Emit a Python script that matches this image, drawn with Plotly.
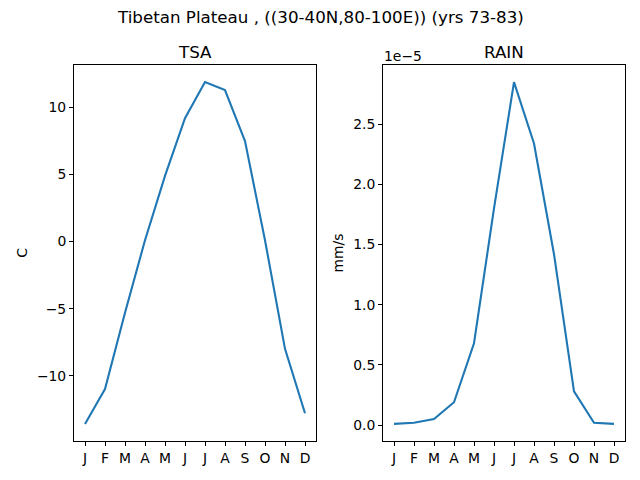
import plotly.graph_objects as go
from plotly.subplots import make_subplots

months = ["J", "F", "M", "A", "M", "J", "J", "A", "S", "O", "N", "D"]
tsa = [-13.6, -11.0, -5.3, 0.1, 4.9, 9.2, 11.9, 11.3, 7.5, 0.1, -8.0, -12.8]
# rain in units of 1e-5 mm/s
rain = [0.01, 0.02, 0.05, 0.19, 0.68, 1.80, 2.85, 2.34, 1.42, 0.28, 0.02, 0.01]

FONT = "DejaVu Sans"
LINE = "#1f77b4"


def padded(vals, frac=0.05):
    lo, hi = min(vals), max(vals)
    pad = (hi - lo) * frac
    return [lo - pad, hi + pad]


x = list(range(len(months)))
W, H = 640, 480
L, R, T, B = 74, 15, 65, 39
pw = W - L - R
ph = H - T - B


def py(ypix):
    return (H - B - ypix) / ph


def px_(xpix):
    return (xpix - L) / pw


fig = make_subplots(rows=1, cols=2)
fig.add_trace(go.Scatter(x=x, y=tsa, mode="lines", line=dict(color=LINE, width=2.1)), row=1, col=1)
fig.add_trace(go.Scatter(x=x, y=rain, mode="lines", line=dict(color=LINE, width=2.1)), row=1, col=2)

axis_style = dict(
    showline=True, linecolor="black", linewidth=1, mirror=True,
    ticks="outside", ticklen=4, tickcolor="black", showgrid=False, zeroline=False,
    tickfont=dict(family=FONT, size=13.9, color="black"),
)
fig.update_xaxes(axis_style, tickvals=x, ticktext=months, range=padded(x))
fig.update_yaxes(axis_style)

fig.update_xaxes(domain=[0, px_(316)], row=1, col=1)
fig.update_xaxes(domain=[px_(383), 1], row=1, col=2)
fig.update_yaxes(range=padded(tsa), dtick=5, row=1, col=1,
                 title=dict(text="C", font=dict(family=FONT, size=13.9), standoff=6))
fig.update_yaxes(range=padded(rain), dtick=0.5, tickformat=".1f", row=1, col=2,
                 title=dict(text="mm/s", font=dict(family=FONT, size=13.9), standoff=6))

fig.update_layout(
    width=W, height=H,
    margin=dict(l=L, r=R, t=T, b=B, autoexpand=False),
    plot_bgcolor="white", paper_bgcolor="white",
    showlegend=False,
    font=dict(family=FONT, color="black"),
)

labels = [
    ("Tibetan Plateau , ((30-40N,80-100E)) (yrs 73-83)", 320, 17, "center", 16.7),
    ("TSA", 195, 52, "center", 16.7),
    ("RAIN", 504, 52, "center", 16.7),
    ("1e\u22125", 382, 56, "left", 13.9),
]
for text, xp, yp, xa, size in labels:
    fig.add_annotation(text=text, x=px_(xp), y=py(yp), xref="paper", yref="paper",
                       xanchor=xa, yanchor="middle", showarrow=False,
                       font=dict(family=FONT, size=size, color="black"))

fig.write_html("out.html", config={"displayModeBar": False},
               post_script="document.body.style.margin='0';")
